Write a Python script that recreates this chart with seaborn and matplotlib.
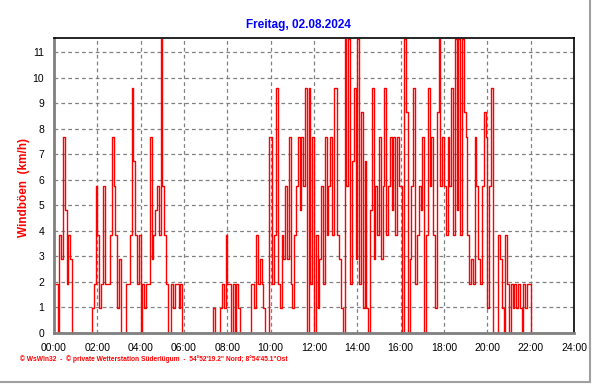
import numpy as np
import pandas as pd
import matplotlib
matplotlib.use("Agg")
import matplotlib.pyplot as plt
from matplotlib.lines import Line2D
from matplotlib.ticker import MultipleLocator
import seaborn as sns

# wind gusts in km/h, one reading every 5 minutes, one list per hour
h00 = [1.92, 1.92, 0, 3.84, 2.88, 7.68, 4.8, 1.92, 3.84, 2.88, 0, 0]
h01 = [0, 0, 0, 0, 0, 0, 0, 0, 0, 0.96, 1.92, 5.76]
h02 = [3.84, 0.96, 1.92, 5.76, 1.92, 1.92, 1.92, 3.84, 7.68, 5.76, 3.84, 0.96]
h03 = [2.88, 0, 0, 0, 1.92, 1.92, 3.84, 9.6, 6.72, 3.84, 1.92, 3.84]
h04 = [0, 1.92, 0.96, 1.92, 1.92, 7.68, 2.88, 3.84, 4.8, 5.76, 3.84, 11.52]
h05 = [5.76, 3.84, 1.92, 0, 0, 1.92, 0.96, 1.92, 1.92, 0.96, 1.92, 0]
h06 = [0, 0, 0, 0, 0, 0, 0, 0, 0, 0, 0, 0]
h07 = [0, 0, 0, 0, 0.96, 0, 0, 0, 0.96, 1.92, 0.96, 3.84]
h08 = [1.92, 1.92, 0, 1.92, 0, 1.92, 0.96, 0, 0, 0, 0, 0]
h09 = [0, 1.92, 1.92, 0.96, 3.84, 1.92, 2.88, 1.92, 0.96, 0, 0, 7.68]
h10 = [7.68, 1.92, 3.84, 9.6, 1.92, 0.96, 3.84, 2.88, 5.76, 2.88, 7.68, 1.92]
h11 = [0.96, 3.84, 5.76, 7.68, 4.8, 7.68, 5.76, 9.6, 0, 9.6, 1.92, 7.68]
h12 = [0, 3.84, 0.96, 2.88, 5.76, 1.92, 7.68, 3.84, 5.76, 7.68, 3.84, 9.6]
h13 = [9.6, 3.84, 2.88, 0.96, 0, 11.52, 5.76, 11.52, 1.92, 6.72, 9.6, 2.88]
h14 = [11.52, 1.92, 8.64, 0.96, 6.72, 0.96, 0, 4.8, 9.6, 2.88, 5.76, 3.84]
h15 = [7.68, 2.88, 5.76, 9.6, 3.84, 5.76, 7.68, 4.8, 7.68, 3.84, 7.68, 5.76]
h16 = [5.76, 0, 11.52, 8.64, 0, 2.88, 5.76, 9.6, 1.92, 3.84, 5.76, 4.8]
h17 = [7.68, 0, 3.84, 9.6, 5.76, 7.68, 3.84, 0.96, 8.64, 11.52, 5.76, 7.68]
h18 = [5.76, 3.84, 7.68, 5.76, 9.6, 3.84, 11.52, 4.8, 11.52, 3.84, 11.52, 8.64]
h19 = [7.68, 3.84, 1.92, 2.88, 1.92, 7.68, 5.76, 2.88, 1.92, 5.76, 8.64, 7.68]
h20 = [0.96, 5.76, 9.6, 0, 0, 0, 3.84, 2.88, 0.96, 0, 3.84, 1.92]
h21 = [0, 1.92, 0.96, 1.92, 0.96, 1.92, 0.96, 0, 1.92, 0.96, 1.92, 1.92]
h22 = [0, 0, 0, 0, 0, 0, 0, 0, 0, 0, 0, 0]
h23 = [0, 0, 0, 0, 0, 0, 0, 0, 0, 0, 0, 0]

hour_ticks = list(range(0, 25, 2))
hour_labels = ["%02d:00" % h for h in hour_ticks]
title = "Freitag, 02.08.2024"
ylabel = "Windböen  (km/h)"
footer = "\u00a9 WsWin32  -  \u00a9 private Wetterstation Süderlügum  -  54°52'19.2\" Nord; 8°54'45.1\"Ost"

gusts = (h00 + h01 + h02 + h03 + h04 + h05 + h06 + h07 + h08 + h09 + h10 + h11
         + h12 + h13 + h14 + h15 + h16 + h17 + h18 + h19 + h20 + h21 + h22 + h23)
minutes = np.arange(0, 24 * 60 + 5, 5)
df = pd.DataFrame({"hour": minutes / 60.0, "gust": gusts + [0]})

sns.set_style("white")
plt.rcParams["font.family"] = ["Liberation Sans", "DejaVu Sans"]

fig = plt.figure(figsize=(5.92, 3.84), dpi=100)
ax = fig.add_axes([54 / 592, 1 - 333 / 384, 520 / 592, 295 / 384])

sns.lineplot(data=df, x="hour", y="gust", drawstyle="steps-post", color="#ff0000",
             lw=1.0, estimator=None, ax=ax)

ax.set_xlim(0, 24)
ax.set_ylim(0, 11.55)
ax.set_xticks(hour_ticks)
ax.set_xticklabels(hour_labels)
ax.xaxis.set_minor_locator(MultipleLocator(0.5))
ax.set_yticks(range(0, 12))
ax.yaxis.set_minor_locator(MultipleLocator(0.25))
ax.set_xlabel("")
ax.set_ylabel("")

ax.grid(True, which="major", linestyle=(0, (3, 2.5)), color="#808080", lw=0.9)
ax.set_axisbelow(True)
ax.tick_params(axis="both", which="major", direction="out", length=4, width=0.8,
               color="#606060", labelsize=7.5, labelcolor="black")
ax.tick_params(axis="both", which="minor", direction="out", length=2, width=0.8,
               color="#606060")
ax.tick_params(axis="x", which="major", pad=3)
ax.tick_params(axis="y", which="major", pad=3)

for side in ["left", "bottom"]:
    ax.spines[side].set_color("#808080")
    ax.spines[side].set_linewidth(2)
for side in ["top", "right"]:
    ax.spines[side].set_color("black")
    ax.spines[side].set_linewidth(1.2)

fig.text(298 / 592, 1 - 25 / 384, title, color="#0000ff", fontsize=8.5,
         fontweight="bold", ha="center", va="center")
fig.text(24 / 592, 1 - 187 / 384, ylabel, color="#ff0000", fontsize=8.5,
         fontweight="bold", rotation=90, ha="center", va="center")
fig.text(20 / 592, 1 - 359 / 384, footer, color="#ff0000", fontsize=4.8,
         fontweight="bold", ha="left", va="center")

# grey frame on the right and bottom edge
fig.add_artist(Line2D([590 / 592, 590 / 592], [2 / 384, 1], color="#a0a0a0", lw=1.5))
fig.add_artist(Line2D([0, 590 / 592], [2 / 384, 2 / 384], color="#a0a0a0", lw=1.5))

fig.savefig("out.png", dpi=100, facecolor="white")
